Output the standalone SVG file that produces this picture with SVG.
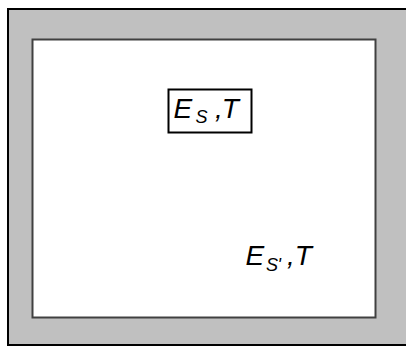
<svg xmlns="http://www.w3.org/2000/svg" width="406" height="347" viewBox="0 0 406 347">
<style>
.t{font-family:"Liberation Sans",Arial,sans-serif;font-style:italic;fill:#000}
.m{font-size:28px}
.s{font-size:18px}
</style>
<rect width="406" height="347" fill="#fff"/>
<g id="outer"><rect x="8" y="9" width="404" height="336" fill="#c0c0c0" stroke="#000" stroke-width="2"/></g>
<g id="inner"><rect x="32.5" y="39.5" width="343" height="278" fill="#fff" stroke="#404040" stroke-width="2"/></g>
<g id="es">
<rect x="168.5" y="89.5" width="83" height="43" fill="none" stroke="#000" stroke-width="2"/>
<text class="t"><tspan class="m" x="173.5" y="118">E</tspan><tspan class="s" x="195.5" y="123.3">S</tspan><tspan class="m" x="215" y="118" letter-spacing="-1">,T</tspan></text>
</g>
<g id="esp">
<text class="t"><tspan class="m" x="245.5" y="265">E</tspan><tspan class="s" x="266" y="270.5">S</tspan><tspan class="s" x="277.5" y="270.5">'</tspan><tspan class="m" x="287" y="265">,T</tspan></text>
</g>
<g id="connectors"/>
</svg>
